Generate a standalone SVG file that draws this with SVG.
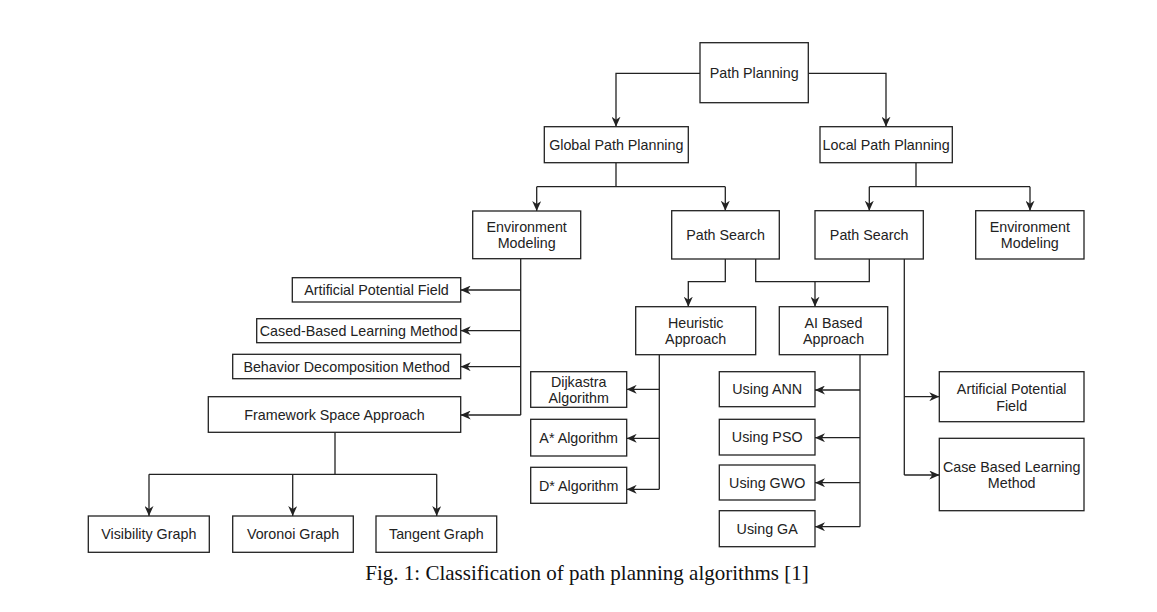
<svg xmlns="http://www.w3.org/2000/svg" width="1157" height="612" viewBox="0 0 1157 612">
<style>
.box{fill:#fff;stroke:#222;stroke-width:1.3}
.t{font-family:"Liberation Sans",Arial,sans-serif;font-size:14.3px;fill:#222;text-anchor:middle}
.c{fill:none;stroke:#222;stroke-width:1.3}
.a{marker-end:url(#arr)}
.cap{font-family:"Liberation Serif","Times New Roman",serif;font-size:21px;fill:#111;text-anchor:middle}
</style>
<defs>
<marker id="arr" viewBox="0 0 10 9" refX="10" refY="4.5" markerWidth="10" markerHeight="9" markerUnits="userSpaceOnUse" orient="auto">
<path d="M0,0 L10,4.5 L0,9 L3,4.5 z" fill="#222"/>
</marker>
</defs>
<rect width="1157" height="612" fill="#fff"/>
<g id="connectors">
<path class="c a" d="M700,73.3 H616 V126.7"/>
<path class="c a" d="M808.3,73.3 H886 V126.7"/>
<path class="c" d="M616,162.7 V186.7 M536.7,186.7 H725.3"/>
<path class="c a" d="M536.7,186.7 V211"/>
<path class="c a" d="M725.3,186.7 V210.7"/>
<path class="c" d="M916,162.7 V186.7 M869.3,186.7 H1030"/>
<path class="c a" d="M869.3,186.7 V210.7"/>
<path class="c a" d="M1030,186.7 V210.7"/>
<path class="c" d="M520.7,258.7 V415"/>
<path class="c a" d="M520.7,290 H460.7"/>
<path class="c a" d="M520.7,330.7 H460.7"/>
<path class="c a" d="M520.7,366.7 H460.7"/>
<path class="c a" d="M520.7,415 H460.7"/>
<path class="c a" d="M725.3,259 V281.7 H688.3 V306.7"/>
<path class="c" d="M755.7,259 V281.7 H869.3 V259"/>
<path class="c a" d="M815,281.7 V306.7"/>
<path class="c" d="M904.3,259 V475"/>
<path class="c a" d="M904.3,396.7 H939.3"/>
<path class="c a" d="M904.3,475 H939.3"/>
<path class="c" d="M659.3,354.7 V489.3"/>
<path class="c a" d="M659.3,389.3 H626.7"/>
<path class="c a" d="M659.3,438.3 H626.7"/>
<path class="c a" d="M659.3,489.3 H626.7"/>
<path class="c" d="M860,354.7 V526.7"/>
<path class="c a" d="M860,390 H815"/>
<path class="c a" d="M860,437.7 H815"/>
<path class="c a" d="M860,482.7 H815"/>
<path class="c a" d="M860,526.7 H815"/>
<path class="c" d="M335,432.3 V474.3 M149,474.3 H436.7"/>
<path class="c a" d="M149,474.3 V516"/>
<path class="c a" d="M292.7,474.3 V516"/>
<path class="c a" d="M436.7,474.3 V516"/>
</g>
<g id="path-planning"><rect class="box" x="700" y="42.7" width="108.3" height="60"/><text class="t" x="754.2" y="78">Path Planning</text></g>
<g id="global-path-planning"><rect class="box" x="544.3" y="126.7" width="144" height="36"/><text class="t" x="616.3" y="150">Global Path Planning</text></g>
<g id="local-path-planning"><rect class="box" x="820" y="126.7" width="132.3" height="36"/><text class="t" x="886.2" y="150">Local Path Planning</text></g>
<g id="env-modeling-global"><rect class="box" x="472.7" y="211" width="108" height="47.7"/><text class="t" x="526.7" y="231.7">Environment</text><text class="t" x="526.7" y="248.3">Modeling</text></g>
<g id="path-search-global"><rect class="box" x="671.7" y="210.7" width="107.6" height="48.3"/><text class="t" x="725.5" y="240">Path Search</text></g>
<g id="path-search-local"><rect class="box" x="815" y="210.7" width="108.3" height="48.3"/><text class="t" x="869.2" y="240">Path Search</text></g>
<g id="env-modeling-local"><rect class="box" x="975.7" y="210.7" width="108.3" height="48.3"/><text class="t" x="1029.8" y="231.7">Environment</text><text class="t" x="1029.8" y="248.3">Modeling</text></g>
<g id="apf-global"><rect class="box" x="292.3" y="277.7" width="168.4" height="24.3"/><text class="t" x="376.5" y="295">Artificial Potential Field</text></g>
<g id="cased-based"><rect class="box" x="256.7" y="318.7" width="204" height="24"/><text class="t" x="358.7" y="335.7">Cased-Based Learning Method</text></g>
<g id="behavior-decomposition"><rect class="box" x="232.7" y="354.3" width="228" height="24.4"/><text class="t" x="346.7" y="371.5">Behavior Decomposition Method</text></g>
<g id="framework-space"><rect class="box" x="208.3" y="396.7" width="252.4" height="35.6"/><text class="t" x="334.5" y="419.5">Framework Space Approach</text></g>
<g id="heuristic"><rect class="box" x="635.7" y="306.7" width="120" height="48"/><text class="t" x="695.7" y="328.3">Heuristic</text><text class="t" x="695.7" y="344.3">Approach</text></g>
<g id="ai-based"><rect class="box" x="779.3" y="306.7" width="108.4" height="48"/><text class="t" x="833.5" y="328.3">AI Based</text><text class="t" x="833.5" y="344.3">Approach</text></g>
<g id="dijkastra"><rect class="box" x="530.7" y="371.7" width="96" height="35.6"/><text class="t" x="578.7" y="387.3">Dijkastra</text><text class="t" x="578.7" y="403.3">Algorithm</text></g>
<g id="a-star"><rect class="box" x="530.7" y="419.3" width="96" height="36.7"/><text class="t" x="578.7" y="443">A* Algorithm</text></g>
<g id="d-star"><rect class="box" x="530.7" y="467.3" width="96" height="36"/><text class="t" x="578.7" y="490.5">D* Algorithm</text></g>
<g id="using-ann"><rect class="box" x="719.3" y="371.7" width="95.7" height="35"/><text class="t" x="767.2" y="394">Using ANN</text></g>
<g id="using-pso"><rect class="box" x="719.3" y="419.3" width="95.7" height="35.7"/><text class="t" x="767.2" y="442">Using PSO</text></g>
<g id="using-gwo"><rect class="box" x="719.3" y="465" width="95.7" height="35"/><text class="t" x="767.2" y="487.5">Using GWO</text></g>
<g id="using-ga"><rect class="box" x="719.3" y="510.7" width="95.7" height="36"/><text class="t" x="767.2" y="533.7">Using GA</text></g>
<g id="apf-local"><rect class="box" x="939.3" y="371.7" width="144.7" height="50"/><text class="t" x="1011.7" y="394.3">Artificial Potential</text><text class="t" x="1011.7" y="410.7">Field</text></g>
<g id="case-based-local"><rect class="box" x="939.3" y="438.3" width="144.7" height="72.4"/><text class="t" x="1011.7" y="471.7">Case Based Learning</text><text class="t" x="1011.7" y="488.3">Method</text></g>
<g id="visibility-graph"><rect class="box" x="88.3" y="516" width="121" height="36.3"/><text class="t" x="148.8" y="539">Visibility Graph</text></g>
<g id="voronoi-graph"><rect class="box" x="232.7" y="516" width="120.6" height="36.3"/><text class="t" x="293" y="539">Voronoi Graph</text></g>
<g id="tangent-graph"><rect class="box" x="376" y="516" width="120.7" height="36.3"/><text class="t" x="436.3" y="539">Tangent Graph</text></g>
<text class="cap" x="587" y="580">Fig. 1: Classification of path planning algorithms [1]</text>
</svg>
